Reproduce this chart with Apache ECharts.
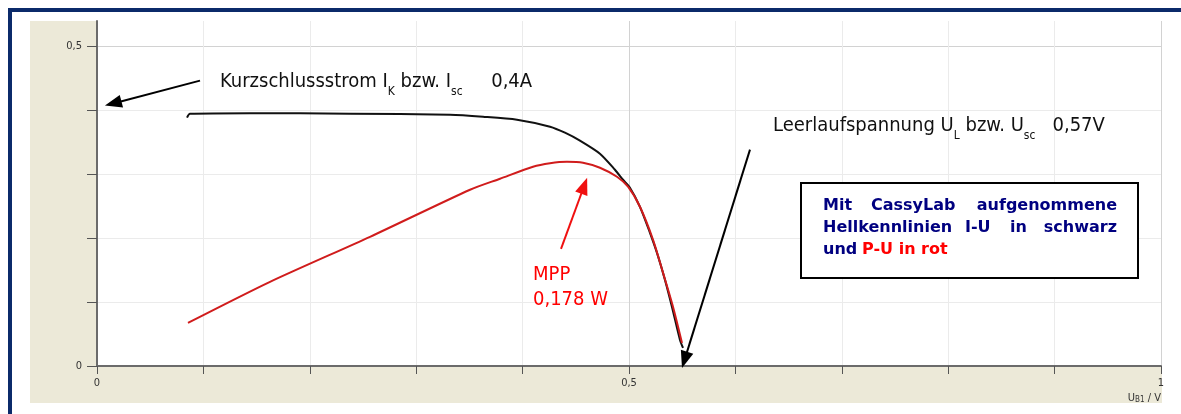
<!DOCTYPE html>
<html>
<head>
<meta charset="utf-8">
<title>Hellkennlinien I-U und P-U</title>
<script src="https://cdn.jsdelivr.net/npm/echarts@6/dist/echarts.min.js"></script>
<style>
  html, body { margin: 0; padding: 0; background: #fff; }
  #chart { width: 1181px; height: 414px; }
</style>
</head>
<body>
<div id="chart"></div>
<script>
// I-U Kennlinie (schwarz): Spannung U in V, Strom I in A
const uCurrent = [0.0846, 0.0874, 0.1438, 0.2378, 0.3318, 0.3628, 0.3947, 0.4258, 0.4398, 0.4539,
  0.4727, 0.4868, 0.4944, 0.5009, 0.5103, 0.5197, 0.5263, 0.5338, 0.5404, 0.5479, 0.5508];
const iCurrent = [0.3887, 0.3950, 0.3958, 0.3950, 0.3934, 0.3903, 0.3856, 0.3746, 0.3652, 0.3527,
  0.3323, 0.3072, 0.2915, 0.2790, 0.2492, 0.2085, 0.1771, 0.1348, 0.0925, 0.0408, 0.0282];

const uPower = [0.0855, 0.1626, 0.2566, 0.3506, 0.3788, 0.4098, 0.4258, 0.4417, 0.4568, 0.4727,
  0.4887, 0.4991, 0.5103, 0.5226, 0.5320, 0.5414, 0.5498];
const pPower = [0.0674, 0.1317, 0.2022, 0.2759, 0.2931, 0.3119, 0.3174, 0.3197, 0.3182, 0.3103,
  0.2962, 0.2806, 0.2492, 0.1975, 0.1458, 0.0925, 0.0361];

// beschriftete Achsenwerte
const xLabelValues = [0, 0.5, 1];
const yLabelValues = [0, 0.5];

const zip = (xs, ys) => xs.map((x, i) => [x, ys[i]]);
const fmt = (v) => String(v).replace(".", ",");
const near = (list, v) => list.some((t) => Math.abs(t - v) < 1e-6);

const annoFont = '"DejaVu Sans Condensed", "DejaVu Sans", sans-serif';
const axisFont = '"DejaVu Sans Condensed", "DejaVu Sans", sans-serif';
const boxFont = '"DejaVu Sans", Verdana, sans-serif';
const navy = "#0b2a6a";
const beige = "#ece9d8";
const gridLight = "#ebebeb";
const gridDark = "#d2d2d2";

// Gitterfarben: jede 0,5 etwas dunkler
const xGridColors = [gridLight, gridLight, gridLight, gridLight, gridLight, gridDark,
  gridLight, gridLight, gridLight, gridLight, gridDark];
const yGridColors = [gridLight, gridLight, gridLight, gridLight, gridLight, gridDark, "#ffffff"];

const chart = echarts.init(document.getElementById("chart"));

function boxWord(text, x, y, align, color) {
  return {
    type: "text",
    x: x,
    y: y,
    z: 20,
    style: {
      text: text,
      fill: color || "#000080",
      font: "bold 16px " + boxFont,
      align: align || "left",
      verticalAlign: "middle",
    },
  };
}

function annoText(text, x, y) {
  return {
    type: "text",
    x: x,
    y: y,
    z: 20,
    style: {
      text: text,
      verticalAlign: "middle",
      fill: "#111",
      rich: {
        m: { fontSize: 20, fontFamily: annoFont, fill: "#111" },
        s: { fontSize: 12, fontFamily: annoFont, fill: "#111", padding: [20, 0, 0, 0] },
      },
    },
  };
}

const option = {
  backgroundColor: "#ffffff",
  animation: false,
  grid: {
    left: 97,
    right: 20,
    top: 21,
    bottom: 48,
    containLabel: false,
    outerBoundsMode: "none",
  },
  xAxis: {
    type: "value",
    min: 0,
    max: 1,
    interval: 0.1,
    axisLine: { show: true, onZero: false, lineStyle: { color: "#6b6b6b", width: 2 } },
    axisTick: { show: true, length: 8, lineStyle: { color: "#555" } },
    axisLabel: {
      margin: 12,
      color: "#333",
      fontSize: 11,
      fontFamily: axisFont,
      formatter: (v) => (near(xLabelValues, v) ? fmt(v) : ""),
    },
    splitLine: { show: true, lineStyle: { color: xGridColors, width: 1 } },
  },
  yAxis: {
    type: "value",
    min: 0,
    max: 0.54,
    interval: 0.1,
    axisLine: { show: true, onZero: false, lineStyle: { color: "#6b6b6b", width: 2 } },
    axisTick: { show: true, length: 10, lineStyle: { color: "#555" } },
    axisLabel: {
      margin: 15,
      color: "#333",
      fontSize: 11,
      fontFamily: axisFont,
      showMaxLabel: false,
      formatter: (v) => (near(yLabelValues, v) ? fmt(v) : ""),
    },
    splitLine: { show: true, showMaxLine: false, lineStyle: { color: yGridColors, width: 1 } },
  },
  series: [
    {
      name: "I-U",
      type: "line",
      data: zip(uCurrent, iCurrent),
      showSymbol: false,
      smooth: 0.25,
      lineStyle: { color: "#111111", width: 2 },
      z: 3,
      markLine: {
        silent: true,
        symbol: ["none", "triangle"],
        symbolSize: [13, 17],
        label: { show: false },
        lineStyle: { type: "solid", width: 2, color: "#000" },
        data: [
          [{ coord: [0.0968, 0.4467] }, { coord: [0.0152, 0.411] }],
          [{ coord: [0.6137, 0.3386] }, { coord: [0.5522, 0.0096] }],
          [
            { coord: [0.4361, 0.1834], lineStyle: { color: "#f01010", width: 2 } },
            { coord: [0.4579, 0.2821] },
          ],
        ],
      },
    },
    {
      name: "P-U",
      type: "line",
      data: zip(uPower, pPower),
      showSymbol: false,
      smooth: 0.25,
      lineStyle: { color: "#d01c1c", width: 2 },
      z: 4,
    },
  ],
  graphic: [
    // grauer Rahmen links und unten
    { type: "rect", z: -1, shape: { x: 30, y: 21, width: 67, height: 382 }, style: { fill: beige } },
    { type: "rect", z: -1, shape: { x: 30, y: 366, width: 1132, height: 37 }, style: { fill: beige } },
    // blauer Rahmen
    { type: "rect", z: 30, shape: { x: 8, y: 8, width: 1173, height: 4 }, style: { fill: navy } },
    { type: "rect", z: 30, shape: { x: 8, y: 8, width: 4, height: 406 }, style: { fill: navy } },
    // Achsentitel
    {
      type: "text",
      x: 1161,
      y: 398,
      z: 20,
      style: {
        text: "{a|U}{b|B1}{a| / V}",
        align: "right",
        verticalAlign: "middle",
        fill: "#333",
        rich: {
          a: { fontSize: 11, fontFamily: axisFont, fill: "#333" },
          b: { fontSize: 8, fontFamily: axisFont, fill: "#333", padding: [3, 0, 0, 0] },
        },
      },
    },
    annoText("{m|Kurzschlussstrom I}{s|K}{m| bzw. I}{s|sc}{m|     0,4A}", 220, 82),
    annoText("{m|Leerlaufspannung U}{s|L}{m| bzw. U}{s|sc}{m|   0,57V}", 773, 126),
    // MPP
    {
      type: "text",
      x: 533,
      y: 275,
      z: 20,
      style: { text: "MPP", font: "20px " + annoFont, fill: "#ff0000", verticalAlign: "middle" },
    },
    {
      type: "text",
      x: 533,
      y: 300,
      z: 20,
      style: { text: "0,178 W", font: "20px " + annoFont, fill: "#ff0000", verticalAlign: "middle" },
    },
    // Infobox
    {
      type: "rect",
      z: 15,
      shape: { x: 801, y: 183, width: 337, height: 95 },
      style: { fill: "#ffffff", stroke: "#000000", lineWidth: 2 },
    },
    boxWord("Mit", 823, 206),
    boxWord("CassyLab", 871, 206),
    boxWord("aufgenommene", 1117, 206, "right"),
    boxWord("Hellkennlinien", 823, 228),
    boxWord("I-U", 965, 228),
    boxWord("in", 1010, 228),
    boxWord("schwarz", 1117, 228, "right"),
    boxWord("und", 823, 250),
    boxWord("P-U in rot", 862, 250, "left", "#ff0000"),
  ],
};

chart.setOption(option);
</script>
</body>
</html>
